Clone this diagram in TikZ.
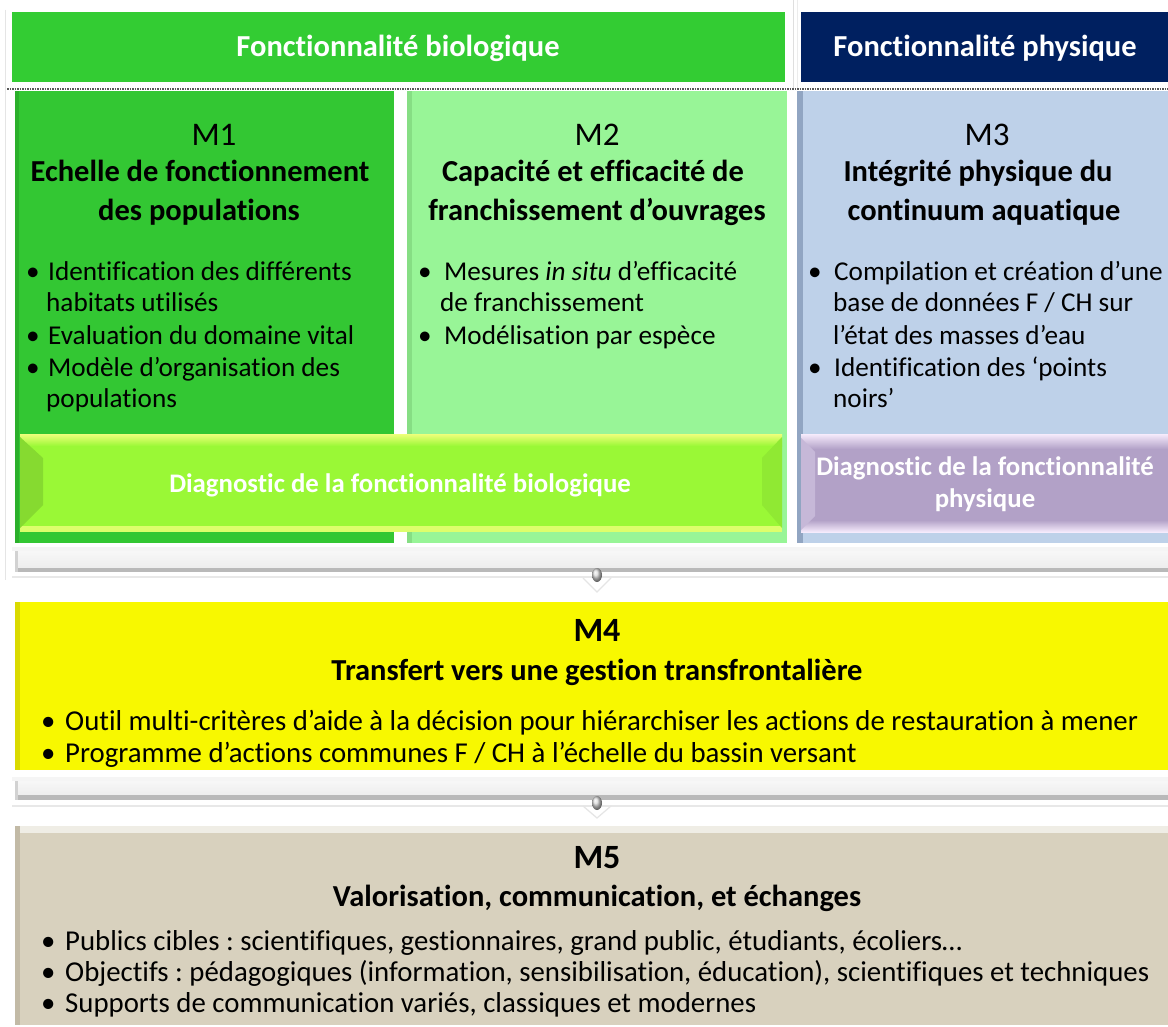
\documentclass[tikz,border=0pt]{standalone}
\usepackage{fontspec}
\setmainfont{Carlito}[Ligatures={NoCommon}]
\frenchspacing
\definecolor{hdrgreen}{HTML}{33CC33}
\definecolor{hdrnavy}{HTML}{002060}
\definecolor{mgreen}{HTML}{33C733}
\definecolor{mgreenedge}{HTML}{2BB02B}
\definecolor{mlight}{HTML}{98F597}
\definecolor{mlightedge}{HTML}{86DE84}
\definecolor{mblue}{HTML}{BED1E9}
\definecolor{mblueedge}{HTML}{91A5C2}
\definecolor{myellow}{HTML}{F8F800}
\definecolor{myellowedge}{HTML}{DADA00}
\definecolor{mtan}{HTML}{D8D1BE}
\definecolor{mtanedge}{HTML}{C2BAA6}
\definecolor{diaggreen}{HTML}{9AF836}
\definecolor{diaggreentop}{HTML}{EEFF7A}
\definecolor{diaggreenedge}{HTML}{86DA30}
\definecolor{diagpurple}{HTML}{B2A1C7}
\definecolor{diagpurpletop}{HTML}{F6EBFC}
\definecolor{diagpurpleedge}{HTML}{C6B8D8}
% bullet set in a box of the given width (pt)
\newcommand{\bul}[1]{\makebox[#1pt][l]{•}}
\begin{document}
\begin{tikzpicture}[x=1pt,y=-1pt,
  hdr/.style={font=\fontsize{30.5}{36}\selectfont\bfseries, text=white, anchor=base, inner sep=0},
  mnum/.style={font=\fontsize{33}{38}\selectfont, anchor=base, inner sep=0},
  mnumb/.style={font=\fontsize{34}{40}\selectfont\bfseries, anchor=base, inner sep=0},
  mtitle/.style={font=\fontsize{30.5}{36}\selectfont\bfseries, anchor=base, inner sep=0},
  item/.style={font=\fontsize{27.2}{32}\selectfont, anchor=base west, inner sep=0},
  itemwide/.style={font=\fontsize{28.8}{34}\selectfont, anchor=base west, inner sep=0},
  diagtxt/.style={font=\fontsize{26.8}{32}\selectfont\bfseries, text=white, anchor=base, inner sep=0}
]
\useasboundingbox (0,0) rectangle (1168,1027);
\fill[white] (0,0) rectangle (1168,1027);

% faint frame of the upper section
\draw[gray!20, line width=0.8pt] (5,10) -- (5,580);
\draw[gray!25, line width=0.6pt] (793,0) -- (793,90);
\draw[gray!15, line width=0.6pt] (797,0) -- (797,90);

% header bands
\fill[hdrgreen] (12,12) rectangle (785,82);
\fill[hdrnavy] (801,12) rectangle (1168,82);
\node[hdr] (hbio) at (398,57) {Fonctionnalité biologique};
\node[hdr] (hphy) at (985,57) {Fonctionnalité physique};

% module columns
\fill[mgreen] (15,91) rectangle (394,543);
\fill[mgreenedge] (15,91) rectangle (19,543);
\fill[mlight] (407,91) rectangle (787,543);
\fill[mlightedge] (407,91) rectangle (412,543);
\fill[mblue] (797,91) rectangle (1168,543);
\fill[mblueedge] (797,91) rectangle (803,543);

% dotted rule under the headers
\draw[black!65, line width=1.6pt, dash pattern=on 1.5pt off 1pt] (7,89) -- (1168,89);

% M1
\node[mnum] (m1n) at (214,146) {M1};
\node[mtitle] (m1t1) at (200,182) {Echelle de fonctionnement};
\node[mtitle] (m1t2) at (199,221) {des populations};
\node[item] (m1a) at (26,281) {\bul{22}Identification des différents};
\node[item] (m1b) at (46,312) {habitats utilisés};
\node[item] (m1c) at (26,344) {\bul{22}Evaluation du domaine vital};
\node[item] (m1d) at (26,376) {\bul{22}Modèle d’organisation des};
\node[item] (m1e) at (46,407) {populations};

% M2
\node[mnum] (m2n) at (597,146) {M2};
\node[mtitle] (m2t1) at (593,182) {Capacité et efficacité de};
\node[mtitle] (m2t2) at (597,221) {franchissement d’ouvrages};
\node[item] (m2a) at (418,281) {\bul{26}Mesures \textit{in situ} d’efficacité};
\node[item] (m2b) at (440,312) {de franchissement};
\node[item] (m2c) at (418,344) {\bul{26}Modélisation par espèce};

% M3
\node[mnum] (m3n) at (987,146) {M3};
\node[mtitle] (m3t1) at (978,182) {Intégrité physique du};
\node[mtitle] (m3t2) at (984,221) {continuum aquatique};
\node[item] (m3a) at (808,281) {\bul{26}Compilation et création d’une};
\node[item] (m3b) at (833,312) {base de données F / CH sur};
\node[item] (m3c) at (833,344) {l’état des masses d’eau};
\node[item] (m3d) at (808,376) {\bul{26}Identification des ‘points};
\node[item] (m3e) at (833,407) {noirs’};

% diagnostic bar, biological
\fill[diaggreen] (20,434) rectangle (782,532);
\shade[top color=diaggreentop, bottom color=diaggreen] (20,434) rectangle (782,446);
\fill[diaggreentop!80!diaggreen] (20,526) rectangle (782,532);
\fill[diaggreenedge] (20,437) -- (43,458) -- (43,505) -- (20,528) -- cycle;
\fill[diaggreenedge!50!diaggreen] (782,437) -- (762,458) -- (762,505) -- (782,528) -- cycle;
\node[diagtxt] (dbio) at (400,492) {Diagnostic de la fonctionnalité biologique};

% diagnostic bar, physical
\fill[diagpurple] (801,434) rectangle (1168,532);
\shade[top color=diagpurpletop, bottom color=diagpurple] (801,434) rectangle (1168,449);
\shade[top color=diagpurple, bottom color=diagpurpletop] (801,520) rectangle (1168,532);
\fill[diagpurpleedge] (801,438) -- (815,452) -- (815,516) -- (801,530) -- cycle;
\node[diagtxt] (dphy1) at (985,475) {Diagnostic de la fonctionnalité};
\node[diagtxt] (dphy2) at (985,507) {physique};

% connector bar between the diagnostics and M4
\fill[gray!8] (12,547) rectangle (1168,551);
\shade[top color=gray!6, bottom color=gray!14] (15,551) rectangle (1168,568);
\fill[gray!55] (15,568) rectangle (1168,572);
\fill[gray!35] (15,551) rectangle (18,572);
\fill[gray!18] (12,576) rectangle (1168,578);
\coordinate (k1) at (597,575);
\draw[gray!20, line width=1.2pt] (583,578) -- (597,592) -- (611,578);
\shade[ball color=gray!30] (k1) ellipse (5 and 7);

% M4
\fill[myellow] (15,602) rectangle (1168,770);
\fill[myellowedge] (15,602) rectangle (20,770);
\node[mnumb] (m4n) at (597,641) {M4};
\node[mtitle] (m4t) at (597,680) {Transfert vers une gestion transfrontalière};
\node[itemwide] (m4a) at (41,730) {\bul{24}Outil multi-critères d’aide à la décision pour hiérarchiser les actions de restauration à mener};
\node[itemwide] (m4b) at (41,762) {\bul{24}Programme d’actions communes F / CH à l’échelle du bassin versant};

% connector bar between M4 and M5
\fill[gray!8] (12,777) rectangle (1168,781);
\shade[top color=gray!6, bottom color=gray!14] (15,781) rectangle (1168,795);
\fill[gray!55] (15,795) rectangle (1168,800);
\fill[gray!35] (15,781) rectangle (18,800);
\fill[gray!18] (12,805) rectangle (1168,807);
\coordinate (k2) at (597,803);
\draw[gray!20, line width=1.2pt] (583,806) -- (597,818) -- (611,806);
\shade[ball color=gray!30] (k2) ellipse (5 and 7);

% M5
\fill[mtan] (15,826) rectangle (1168,1025);
\fill[mtan!40!white] (15,826) rectangle (1168,833);
\fill[mtanedge] (15,826) rectangle (20,1025);
\node[mnumb] (m5n) at (597,868) {M5};
\node[mtitle] (m5t) at (597,906) {Valorisation, communication, et échanges};
\node[itemwide] (m5a) at (41,950) {\bul{24}Publics cibles : scientifiques, gestionnaires, grand public, étudiants, écoliers…};
\node[itemwide] (m5b) at (41,981) {\bul{24}Objectifs : pédagogiques (information, sensibilisation, éducation), scientifiques et techniques};
\node[itemwide] (m5c) at (41,1012) {\bul{24}Supports de communication variés, classiques et modernes};
\end{tikzpicture}
\end{document}
